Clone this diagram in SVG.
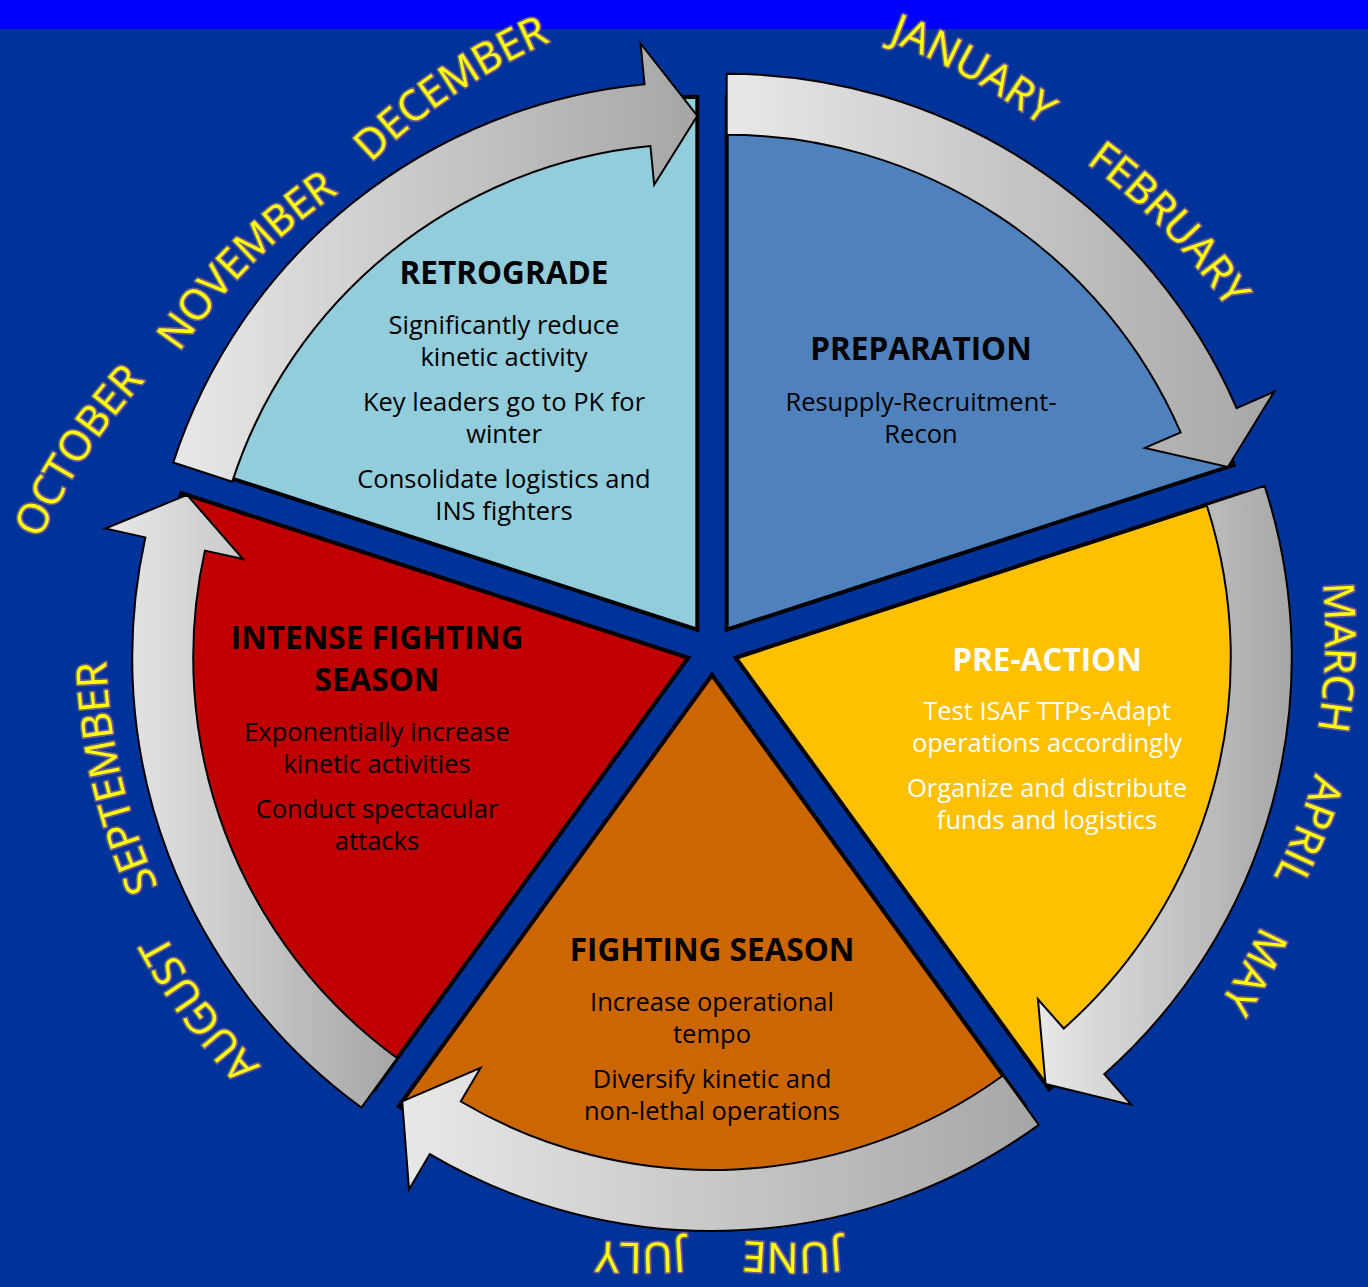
<svg xmlns="http://www.w3.org/2000/svg" width="1368" height="1287" viewBox="0 0 1368 1287">
<defs>
<linearGradient id="ag" x1="0" y1="0" x2="1" y2="0"><stop offset="0" stop-color="#e8e8e8"/><stop offset="1" stop-color="#a6a6a6"/></linearGradient>
<path id="marc" d="M-155.29,20.44 A600,600 0 0 1 155.29,20.44"/>
<style>
.wedge{stroke:#000;stroke-width:4;stroke-linejoin:miter}
.arrow{fill:url(#ag);stroke:#000;stroke-width:2;stroke-linejoin:miter}
.t{font-family:'Open Sans','Liberation Sans',sans-serif;text-anchor:middle}
.h{font-size:31.5px;font-weight:bold}
.b{font-size:25.5px}
.m{font-family:'Open Sans','Liberation Sans',sans-serif;font-size:42px;fill:#ffff00;stroke:#6a5a8c;stroke-width:3.5;paint-order:stroke fill;stroke-linejoin:round;text-anchor:middle}
</style>
</defs>
<rect x="0" y="0" width="1368" height="1287" fill="#003399"/>
<rect x="0" y="0" width="1368" height="29" fill="#0000ff"/>

<g id="preparation">
<path class="wedge" fill="#4f81bd" d="M726.69,629.77 L726.69,96.77 A533,533 0 0 1 1233.60,465.06 Z"/>
<path class="arrow" d="M726.69,73.77 A556,556 0 0 1 1236.58,408.06 L1274.18,391.72 L1227.90,466.92 L1144.87,447.94 L1180.63,432.39 A495,495 0 0 0 726.69,134.77 Z"/>
<text class="t h" x="921" y="360">PREPARATION</text>
<text class="t b" x="921" y="411">Resupply-Recruitment-</text>
<text class="t b" x="921" y="443">Recon</text>
</g>

<g id="pre-action">
<path class="wedge" fill="#ffc000" d="M735.78,657.73 L1242.69,493.02 A533,533 0 0 1 1049.07,1088.94 Z"/>
<path class="arrow" d="M1264.57,485.91 A556,556 0 0 1 1104.20,1074.15 L1131.36,1104.86 L1045.55,1084.08 L1037.93,999.26 L1063.78,1028.47 A495,495 0 0 0 1206.55,504.77 Z"/>
<text class="t h" x="1047" y="671" fill="#ffffff">PRE-ACTION</text>
<text class="t b" x="1047" y="720" fill="#ffffff">Test ISAF TTPs-Adapt</text>
<text class="t b" x="1047" y="752" fill="#ffffff">operations accordingly</text>
<text class="t b" x="1047" y="797" fill="#ffffff">Organize and distribute</text>
<text class="t b" x="1047" y="829" fill="#ffffff">funds and logistics</text>
</g>

<g id="fighting-season">
<path class="wedge" fill="#cc6600" d="M712,675 L1025.29,1106.21 A533,533 0 0 1 398.71,1106.21 Z"/>
<path class="arrow" d="M1038.81,1124.82 A556,556 0 0 1 429.81,1154.07 L409.00,1189.39 L402.23,1101.35 L480.56,1067.90 L460.77,1101.51 A495,495 0 0 0 1002.96,1075.46 Z"/>
<text class="t h" x="712" y="961">FIGHTING SEASON</text>
<text class="t b" x="712" y="1011">Increase operational</text>
<text class="t b" x="712" y="1043">tempo</text>
<text class="t b" x="712" y="1088">Diversify kinetic and</text>
<text class="t b" x="712" y="1120">non-lethal operations</text>
</g>

<g id="intense-fighting-season">
<path class="wedge" fill="#c00000" d="M688.22,657.73 L374.93,1088.94 A533,533 0 0 1 181.31,493.02 Z"/>
<path class="arrow" d="M361.41,1107.55 A556,556 0 0 1 145.40,537.39 L105.37,528.52 L187.01,494.88 L243.03,559.03 L204.95,550.59 A495,495 0 0 0 397.26,1058.19 Z"/>
<text class="t h" x="377" y="649">INTENSE FIGHTING</text>
<text class="t h" x="377" y="691">SEASON</text>
<text class="t b" x="377" y="741">Exponentially increase</text>
<text class="t b" x="377" y="773">kinetic activities</text>
<text class="t b" x="377" y="818">Conduct spectacular</text>
<text class="t b" x="377" y="850">attacks</text>
</g>

<g id="retrograde">
<path class="wedge" fill="#92cddc" d="M697.31,629.77 L190.40,465.06 A533,533 0 0 1 697.31,96.77 Z"/>
<path class="arrow" d="M173.28,462.50 A551,551 0 0 1 644.50,84.30 L640.57,43.49 L697.31,115.77 L654.18,184.84 L650.44,146.02 A489,489 0 0 0 232.24,481.66 Z"/>
<text class="t h" x="504" y="284">RETROGRADE</text>
<text class="t b" x="504" y="334">Significantly reduce</text>
<text class="t b" x="504" y="366">kinetic activity</text>
<text class="t b" x="504" y="411">Key leaders go to PK for</text>
<text class="t b" x="504" y="443">winter</text>
<text class="t b" x="504" y="488">Consolidate logistics and</text>
<text class="t b" x="504" y="520">INS fighters</text>
</g>

<g id="months">
<text class="m" transform="translate(968,78) rotate(29)"><textPath href="#marc" startOffset="50%">JANUARY</textPath></text>
<text class="m" transform="translate(1163,230) rotate(46)"><textPath href="#marc" startOffset="50%">FEBRUARY</textPath></text>
<text class="m" transform="translate(1325,657) rotate(92)"><textPath href="#marc" startOffset="50%">MARCH</textPath></text>
<text class="m" transform="translate(1297,826) rotate(112)"><textPath href="#marc" startOffset="50%">APRIL</textPath></text>
<text class="m" transform="translate(1242,965) rotate(118)"><textPath href="#marc" startOffset="50%">MAY</textPath></text>
<text class="m" transform="translate(792,1243) rotate(180)"><textPath href="#marc" startOffset="50%">JUNE</textPath></text>
<text class="m" transform="translate(640,1243) rotate(180)"><textPath href="#marc" startOffset="50%">JULY</textPath></text>
<text class="m" transform="translate(207.5,1003) rotate(234)"><textPath href="#marc" startOffset="50%">AUGUST</textPath></text>
<text class="m" transform="translate(121,776.5) rotate(257)"><textPath href="#marc" startOffset="50%">SEPTEMBER</textPath></text>
<text class="m" transform="translate(86,456) rotate(303.5)"><textPath href="#marc" startOffset="50%">OCTOBER</textPath></text>
<text class="m" transform="translate(251,265) rotate(315)"><textPath href="#marc" startOffset="50%">NOVEMBER</textPath></text>
<text class="m" transform="translate(455,94) rotate(326)"><textPath href="#marc" startOffset="50%">DECEMBER</textPath></text>
</g>
</svg>
